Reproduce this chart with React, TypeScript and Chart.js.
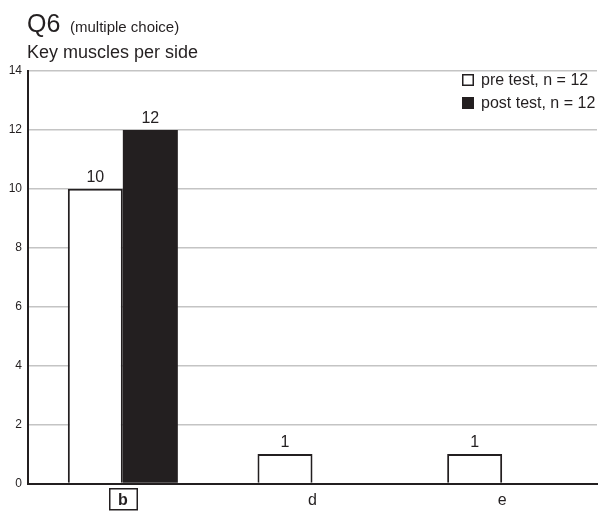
import React, { useEffect, useRef } from "react";
import { Chart, registerables } from "chart.js";

Chart.register(...registerables);

const FONT = "'Liberation Sans', Arial, Helvetica, sans-serif";
const INK = "#231f20";

const titleMain = "Q6";
const titleNote = "(multiple choice)";
const subtitle = "Key muscles per side";

const categories = ["b", "d", "e"];
const correctCategory = "b";
const preTest = [10, 1, 1];
const postTest = [12, 0, 0];
const seriesLabels = ["pre test, n = 12", "post test, n = 12"];
const yMax = 14;
const yStep = 2;

// Titles, legend, value labels and the box around the correct answer
const decorations = {
  id: "decorations",
  afterDraw(chart: any) {
    const { ctx } = chart;
    ctx.save();
    ctx.fillStyle = INK;
    ctx.strokeStyle = INK;
    ctx.textBaseline = "alphabetic";
    ctx.textAlign = "left";

    ctx.font = `25px ${FONT}`;
    ctx.fillText(titleMain, 27, 32);
    ctx.font = `15px ${FONT}`;
    ctx.fillText(titleNote, 70, 32);
    ctx.font = `18px ${FONT}`;
    ctx.fillText(subtitle, 27, 58);

    // legend
    const lx = 462;
    const rows = [74, 97];
    ctx.lineWidth = 1.5;
    rows.forEach((y, i) => {
      if (i === 0) {
        ctx.fillStyle = "#ffffff";
        ctx.fillRect(lx, y, 12, 12);
        ctx.strokeRect(lx + 0.75, y + 0.75, 10.5, 10.5);
      } else {
        ctx.fillStyle = INK;
        ctx.fillRect(lx, y, 12, 12);
      }
      ctx.fillStyle = INK;
      ctx.font = `16px ${FONT}`;
      ctx.textBaseline = "middle";
      ctx.fillText(seriesLabels[i], 481, y + 6.5);
    });

    // value labels above bars
    ctx.textAlign = "center";
    ctx.textBaseline = "alphabetic";
    ctx.font = `16px ${FONT}`;
    chart.data.datasets.forEach((ds: any, di: number) => {
      const meta = chart.getDatasetMeta(di);
      meta.data.forEach((bar: any, i: number) => {
        const v = ds.data[i];
        if (!v) return;
        ctx.fillText(String(v), bar.x, bar.y - 7);
      });
    });

    // box around the correct category label
    const xs = chart.scales.x;
    const idx = categories.indexOf(correctCategory);
    const cx = xs.getPixelForValue(idx);
    ctx.lineWidth = 1.5;
    ctx.strokeRect(Math.round(cx) - 13.25, 488.75, 27.5, 21);
    ctx.restore();
  },
};

export default function App() {
  const ref = useRef<HTMLCanvasElement | null>(null);

  useEffect(() => {
    document.body.style.margin = "0";
    if (!ref.current) return;
    const chart = new Chart(ref.current, {
      type: "bar",
      data: {
        labels: categories,
        datasets: [
          {
            label: seriesLabels[0],
            data: preTest,
            backgroundColor: "#ffffff",
            borderColor: INK,
            borderWidth: 2,
            borderSkipped: "bottom",
          },
          {
            label: seriesLabels[1],
            data: postTest,
            backgroundColor: INK,
            borderColor: INK,
            borderWidth: 0,
          },
        ],
      },
      options: {
        animation: false,
        responsive: false,
        maintainAspectRatio: false,
        layout: { padding: { top: 71, right: 10, left: 0, bottom: 0 } },
        datasets: {
          bar: { categoryPercentage: 0.58, barPercentage: 1 },
        },
        plugins: {
          legend: { display: false },
          tooltip: { enabled: false },
          title: { display: false },
        },
        scales: {
          x: {
            grid: { display: false, drawTicks: false },
            border: { display: true, color: INK, width: 2 },
            ticks: {
              color: INK,
              padding: 7,
              font: (c: any) => ({
                family: FONT,
                size: 16,
                weight: categories[c.index] === correctCategory ? "bold" : "normal",
              }),
            },
            afterFit: (s: any) => {
              s.height = 28.5;
            },
          },
          y: {
            min: 0,
            max: yMax,
            ticks: {
              stepSize: yStep,
              color: INK,
              padding: 6,
              font: { family: FONT, size: 12 },
            },
            grid: { color: "#c4c4c4", lineWidth: 1.5, drawTicks: false },
            border: { display: true, color: INK, width: 2 },
            afterFit: (s: any) => {
              s.width = 28;
            },
          },
        },
      },
      plugins: [decorations],
    });
    return () => chart.destroy();
  }, []);

  return (
    <div style={{ width: 607, height: 512 }}>
      <canvas ref={ref} width={607} height={512} style={{ display: "block" }} />
    </div>
  );
}
